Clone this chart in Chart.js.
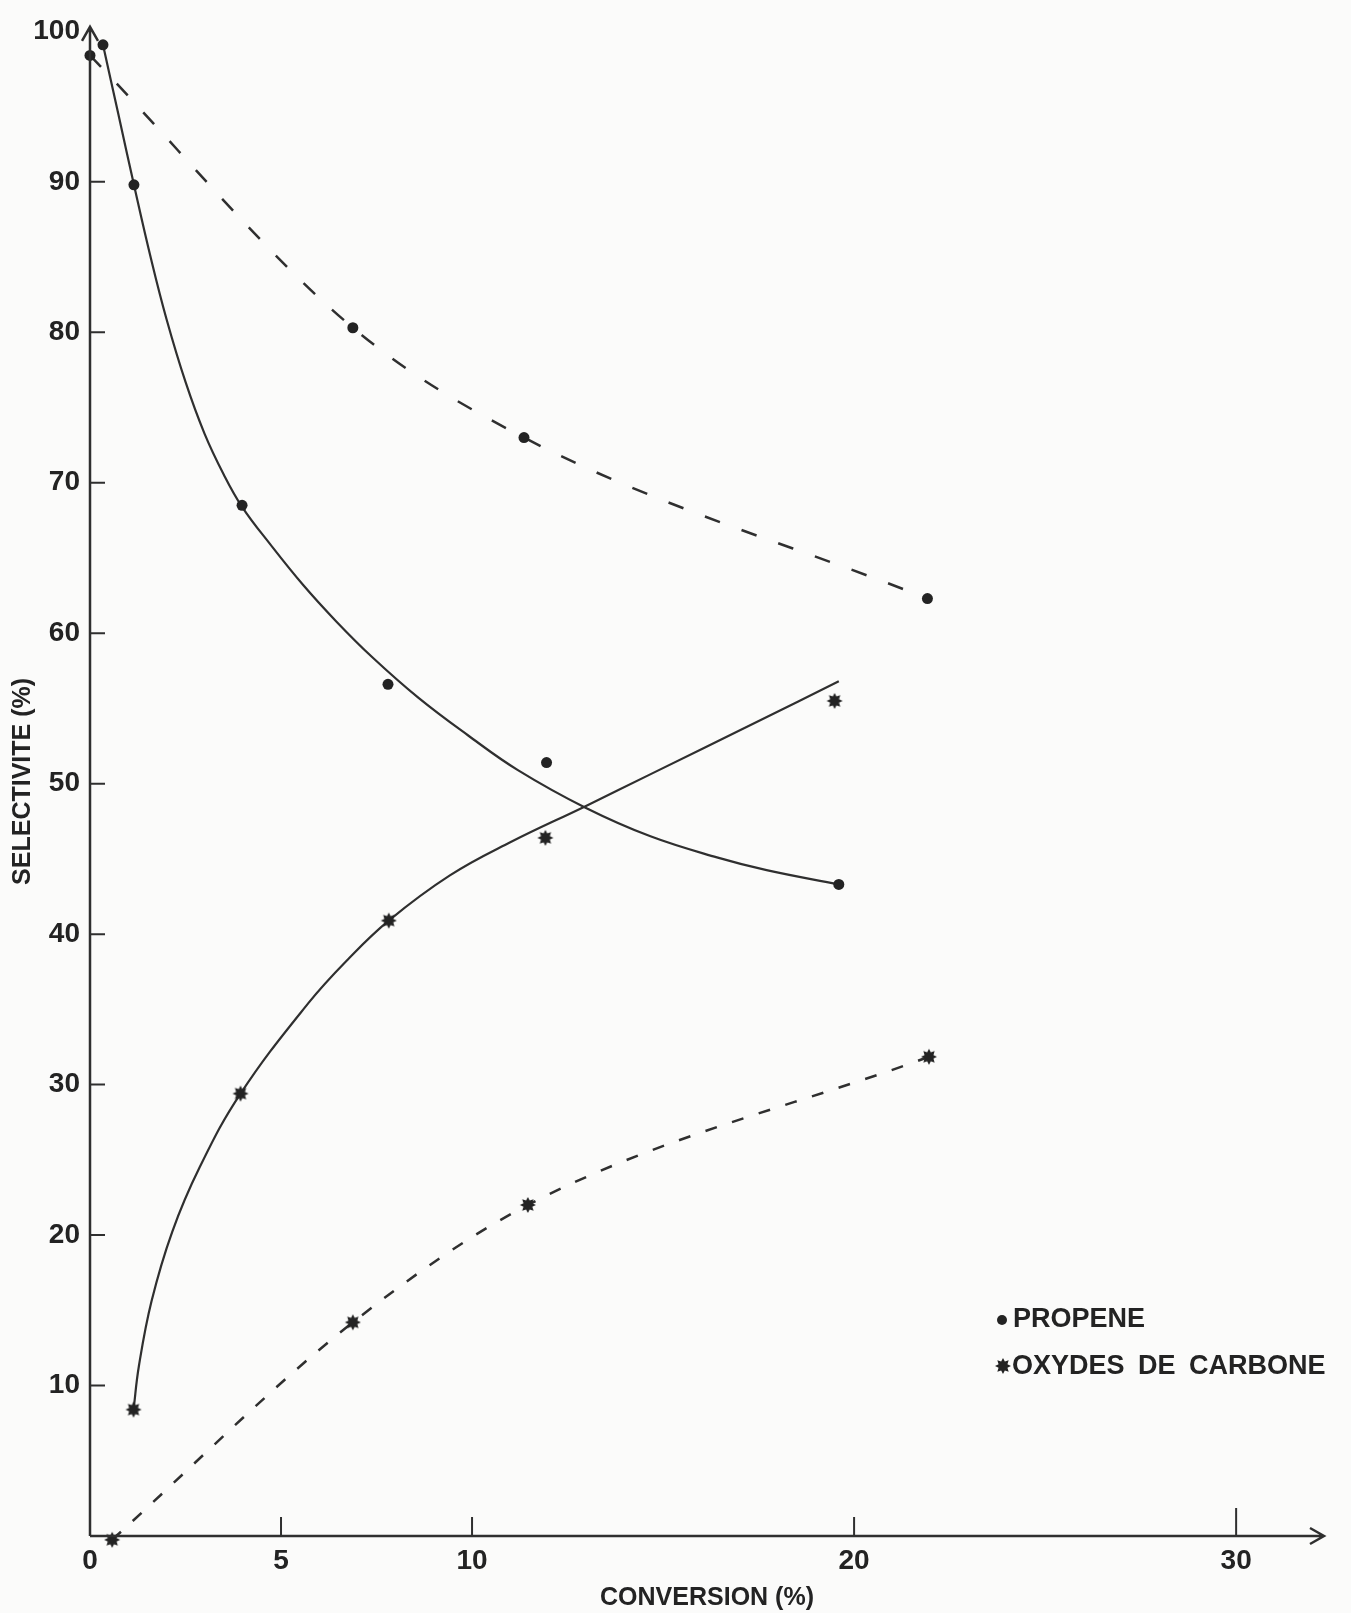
<!DOCTYPE html>
<html>
<head>
<meta charset="utf-8">
<title>Selectivite / conversion</title>
<script src="https://cdn.jsdelivr.net/npm/chart.js@4.4.1/dist/chart.umd.min.js"></script>
<style>
    html, body { margin: 0; padding: 0; background: #fbfbfa; }
</style>
</head>
<body>
<canvas id="myChart" width="1351" height="1613"></canvas>
<script>
// conversion (%) -> selectivite (%)
var propeneX = [0.34, 1.15, 3.98, 7.8, 11.95, 19.6];
var propeneY = [99.1, 89.8, 68.5, 56.6, 51.4, 43.3];
var propene2X = [0, 6.88, 11.36, 21.92];
var propene2Y = [98.4, 80.3, 73.0, 62.3];
var oxydesX = [1.14, 3.94, 7.82, 11.92, 19.49];
var oxydesY = [8.4, 29.4, 40.9, 46.4, 55.5];
var oxydes2X = [0.58, 6.88, 11.46, 21.96];
var oxydes2Y = [-0.25, 14.2, 22.0, 31.85];

// hand drawn solid curves (they do not go exactly through the points)
var propeneCurveX = [0.34, 0.75, 1.15, 1.6, 2.0, 2.5, 3.0, 3.5, 3.98, 4.72, 5.58, 6.44, 7.39, 8.6, 9.9, 11.2, 12.97, 14.67, 16.41, 17.71, 19.6];
var propeneCurveY = [99.1, 94.4, 89.8, 84.85, 80.9, 76.7, 73.25, 70.55, 68.4, 65.9, 63.2, 60.8, 58.4, 55.7, 53.2, 50.9, 48.4, 46.5, 45.1, 44.25, 43.3];
var oxydesCurveX = [1.14, 1.28, 1.61, 2.15, 2.87, 3.94, 5.71, 6.78, 7.82, 9.42, 11.0, 12.97, 14.69, 17.45, 19.6];
var oxydesCurveY = [8.4, 11.3, 15.6, 20.2, 24.5, 29.4, 35.4, 38.4, 40.9, 43.9, 46.1, 48.5, 50.65, 54.1, 56.8];

var xTicks = [0, 5, 10, 20, 30];
var yTicks = [10, 20, 30, 40, 50, 60, 70, 80, 90, 100];

var INK = '#232323';
var LINE = '#2f2f2f';
var FONT = '"Liberation Sans", Arial, Helvetica, sans-serif';

function pts(xs, ys) {
    var out = [];
    for (var i = 0; i < xs.length; i++) {
        out.push({ x: xs[i], y: ys[i] });
    }
    return out;
}

// the figure uses a filled eight point star for the carbon oxides
function makeStar(r) {
    var c = document.createElement('canvas');
    var s = Math.ceil(r * 2 + 2);
    c.width = s;
    c.height = s;
    var g = c.getContext('2d');
    g.fillStyle = INK;
    g.beginPath();
    for (var i = 0; i < 16; i++) {
        var a = Math.PI * i / 8;
        var rr = (i % 2) ? r * 0.6 : r;
        g.lineTo(s / 2 + rr * Math.cos(a), s / 2 + rr * Math.sin(a));
    }
    g.closePath();
    g.fill();
    return c;
}

var starImg = makeStar(8);

var axesPlugin = {
    id: 'axes',
    beforeDraw: function (chart) {
        var c = chart.ctx;
        c.save();
        c.fillStyle = '#fbfbfa';
        c.fillRect(0, 0, chart.width, chart.height);
        c.restore();
    },
    afterDraw: function (chart) {
        var a = chart.chartArea;
        var xs = chart.scales.x;
        var ys = chart.scales.y;
        var c = chart.ctx;
        c.save();
        c.strokeStyle = LINE;
        c.lineWidth = 2.5;
        c.beginPath();
        // axes with open arrow heads
        c.moveTo(a.left, a.bottom);
        c.lineTo(a.left, a.top);
        c.moveTo(a.left - 8, a.top + 14);
        c.lineTo(a.left, a.top);
        c.lineTo(a.left + 8, a.top + 14);
        c.moveTo(a.left, a.bottom);
        c.lineTo(a.right, a.bottom);
        c.moveTo(a.right - 14, a.bottom - 8);
        c.lineTo(a.right, a.bottom);
        c.lineTo(a.right - 14, a.bottom + 8);
        c.stroke();

        // ticks point inward
        c.lineWidth = 2;
        c.beginPath();
        yTicks.forEach(function (v) {
            if (v >= 100) return;
            var p = ys.getPixelForValue(v);
            c.moveTo(a.left, p);
            c.lineTo(a.left + 15, p);
        });
        xTicks.forEach(function (v) {
            if (v === 0) return;
            var p = xs.getPixelForValue(v);
            c.moveTo(p, a.bottom);
            c.lineTo(p, a.bottom - (v === 30 ? 28 : 19));
        });
        c.stroke();

        // legend
        var lx = 1002, ly = 1320;
        c.fillStyle = INK;
        c.beginPath();
        c.arc(lx, ly, 5, 0, Math.PI * 2);
        c.fill();
        c.drawImage(starImg, lx + 1 - starImg.width / 2, ly + 46 - starImg.height / 2);
        c.font = 'bold 27px ' + FONT;
        c.textBaseline = 'middle';
        c.textAlign = 'left';
        if ('wordSpacing' in c) c.wordSpacing = '6px';
        c.fillText('PROPENE', lx + 11, ly);
        c.fillText('OXYDES DE CARBONE', lx + 10, ly + 47);
        c.restore();
    }
};

var ctx = document.getElementById('myChart');

var myChart = new Chart(ctx, {
    type: 'scatter',
    data: {
        datasets: [
            {
                label: 'PROPENE',
                data: pts(propeneX, propeneY),
                pointStyle: 'circle',
                pointRadius: 5.5,
                pointBackgroundColor: INK,
                pointBorderWidth: 0,
                showLine: false,
                clip: false
            },
            {
                label: 'PROPENE 2',
                data: pts(propene2X, propene2Y),
                pointStyle: 'circle',
                pointRadius: 5.5,
                pointBackgroundColor: INK,
                pointBorderWidth: 0,
                showLine: false,
                clip: false
            },
            {
                label: 'OXYDES DE CARBONE',
                data: pts(oxydesX, oxydesY),
                pointStyle: starImg,
                showLine: false,
                clip: false
            },
            {
                label: 'OXYDES DE CARBONE 2',
                data: pts(oxydes2X, oxydes2Y),
                pointStyle: starImg,
                showLine: false,
                clip: false
            },
            {
                label: 'propene courbe',
                data: pts(propeneCurveX, propeneCurveY),
                showLine: true,
                pointRadius: 0,
                borderColor: LINE,
                borderWidth: 2.2,
                tension: 0.4,
                clip: false
            },
            {
                label: 'oxydes courbe',
                data: pts(oxydesCurveX, oxydesCurveY),
                showLine: true,
                pointRadius: 0,
                borderColor: LINE,
                borderWidth: 2.2,
                tension: 0.4,
                clip: false
            },
            {
                label: 'propene tirets',
                data: pts(propene2X, propene2Y),
                showLine: true,
                pointRadius: 0,
                borderColor: LINE,
                borderWidth: 2.5,
                borderDash: [16, 23],
                cubicInterpolationMode: 'monotone',
                clip: false
            },
            {
                label: 'oxydes tirets',
                data: pts(oxydes2X, oxydes2Y),
                showLine: true,
                pointRadius: 0,
                borderColor: LINE,
                borderWidth: 2.5,
                borderDash: [12, 16],
                cubicInterpolationMode: 'monotone',
                clip: false
            }
        ]
    },
    options: {
        responsive: false,
        devicePixelRatio: 1,
        animation: false,
        layout: {
            padding: { left: 0, right: 27, top: 14, bottom: 0 }
        },
        plugins: {
            legend: { display: false },
            tooltip: { enabled: false }
        },
        scales: {
            x: {
                type: 'linear',
                min: 0,
                max: 32.3,
                afterBuildTicks: function (axis) {
                    axis.ticks = xTicks.map(function (v) { return { value: v }; });
                },
                afterFit: function (axis) {
                    axis.height = 77;
                },
                grid: { display: false, drawTicks: false },
                border: { display: false },
                ticks: {
                    autoSkip: false,
                    maxRotation: 0,
                    padding: 8,
                    color: INK,
                    font: { family: FONT, size: 28, weight: 'bold' }
                },
                title: {
                    display: true,
                    text: 'CONVERSION (%)',
                    color: INK,
                    padding: { top: 0, bottom: 0 },
                    font: { family: FONT, size: 25, weight: 'bold' }
                }
            },
            y: {
                type: 'linear',
                min: 0,
                max: 100.3,
                afterBuildTicks: function (axis) {
                    axis.ticks = yTicks.map(function (v) { return { value: v }; });
                },
                afterFit: function (axis) {
                    axis.width = 90;
                },
                grid: { display: false, drawTicks: false },
                border: { display: false },
                ticks: {
                    autoSkip: false,
                    padding: 10,
                    color: INK,
                    font: { family: FONT, size: 28, weight: 'bold' }
                },
                title: {
                    display: true,
                    text: 'SELECTIVITE (%)',
                    color: INK,
                    padding: { top: 8, bottom: 0 },
                    font: { family: FONT, size: 25, weight: 'bold' }
                }
            }
        }
    },
    plugins: [axesPlugin]
});
</script>
</body>
</html>
